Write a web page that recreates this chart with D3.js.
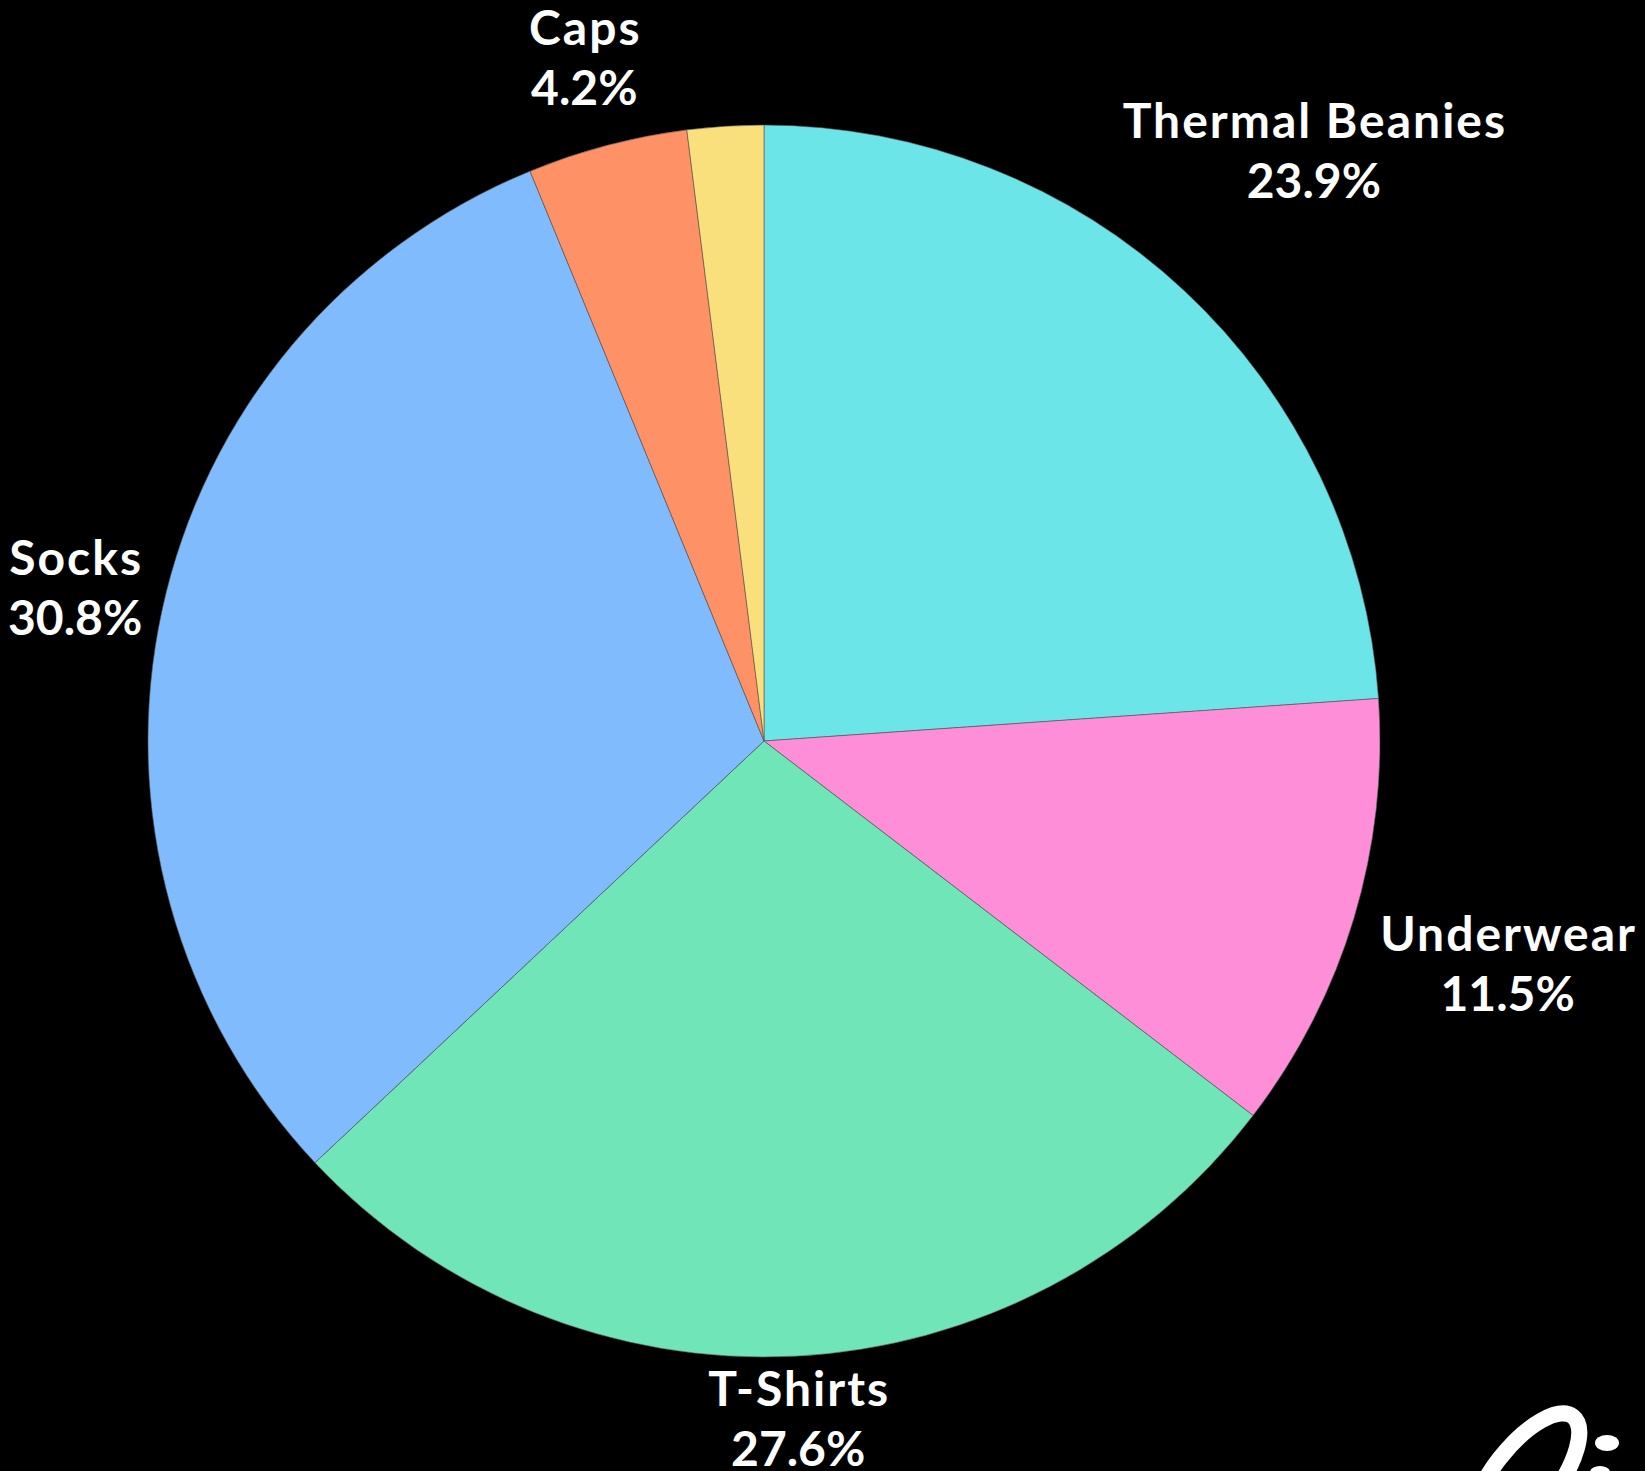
<!DOCTYPE html>
<html>
<head>
<meta charset="utf-8">
<script src="https://cdn.jsdelivr.net/npm/d3@7"></script>
<style>
  html, body { margin: 0; padding: 0; background: #000; }
  svg { display: block; }
</style>
</head>
<body>
<svg id="chart" width="1645" height="1471"></svg>
<script>
const categories = ["Thermal Beanies", "Underwear", "T-Shirts", "Socks", "Caps", "Other"];
const shares = [23.9, 11.5, 27.6, 30.8, 4.2, 2.0];
const showLabel = [true, true, true, true, true, false];
const colors = ["#6ce5e8", "#ff8ed8", "#70e6b8", "#80bbfe", "#ff9166", "#f9e07c"];

const W = 1645, H = 1471;
const cx = 764, cy = 741, R = 616;
const gap = 2, padX = 20, padBottom = 16;

const svg = d3.select("#chart");
svg.append("rect").attr("width", W).attr("height", H).attr("fill", "#000");

const data = categories.map((c, i) => ({ name: c, value: shares[i], color: colors[i], show: showLabel[i] }));

const pie = d3.pie().sort(null).value(d => d.value);
const arcs = pie(data);
const arc = d3.arc().innerRadius(0).outerRadius(R);

const g = svg.append("g").attr("transform", `translate(${cx},${cy})`);
g.selectAll("path.slice").data(arcs).join("path")
  .attr("class", "slice")
  .attr("d", arc)
  .attr("fill", d => d.data.color)
  .attr("stroke", "#555")
  .attr("stroke-width", 0.6);

const fontSize = 48, lineH = 60;
const labels = g.selectAll("g.lbl").data(arcs.filter(d => d.data.show)).join("g").attr("class", "lbl");
labels.each(function(d) {
  const sel = d3.select(this);
  const t = sel.append("text")
    .attr("text-anchor", "middle")
    .attr("fill", "#fff")
    .attr("font-family", "Lato, 'Open Sans', sans-serif")
    .attr("font-weight", 700)
    .attr("font-size", fontSize);
  t.append("tspan").attr("x", 1).attr("y", -lineH / 2 + fontSize * 0.34)
    .attr("letter-spacing", 2).text(d.data.name);
  t.append("tspan").attr("x", 0).attr("y", lineH / 2 + fontSize * 0.34)
    .attr("letter-spacing", 0).text(d.data.value.toFixed(1) + "%");
  const bb = t.node().getBBox();
  const mid = (d.startAngle + d.endAngle) / 2;
  const ux = Math.sin(mid), uy = -Math.cos(mid);
  const bx = bb.x - padX, bw = bb.width + 2 * padX, by = bb.y, bh = bb.height + padBottom;
  let dist = R;
  for (let s = R * 0.5; s < R * 2; s += 0.5) {
    const bx0 = s * ux + bx, bx1 = bx0 + bw;
    const by0 = s * uy + by, by1 = by0 + bh;
    const nx = Math.max(bx0, Math.min(0, bx1));
    const ny = Math.max(by0, Math.min(0, by1));
    if (Math.hypot(nx, ny) >= R + gap) { dist = s; break; }
  }
  let tx = dist * ux, ty = dist * uy;
  // keep the label inside the picture horizontally
  const minX = 8 - cx - bb.x, maxX = (W - 4) - cx - (bb.x + bb.width);
  tx = Math.max(minX, Math.min(maxX, tx));
  sel.attr("transform", `translate(${tx},${ty})`);
});

// watermark logo fragment (bottom-right)
const logo = svg.append("g").attr("fill", "#fff");
logo.append("ellipse")
  .attr("cx", 1525).attr("cy", 1478).attr("rx", 32).attr("ry", 78)
  .attr("transform", "rotate(38,1525,1478)")
  .attr("fill", "none").attr("stroke", "#fff").attr("stroke-width", 16);
logo.append("ellipse").attr("cx", 1607).attr("cy", 1443).attr("rx", 12).attr("ry", 8);
logo.append("ellipse").attr("cx", 1600).attr("cy", 1472).attr("rx", 10).attr("ry", 6);
</script>
</body>
</html>
